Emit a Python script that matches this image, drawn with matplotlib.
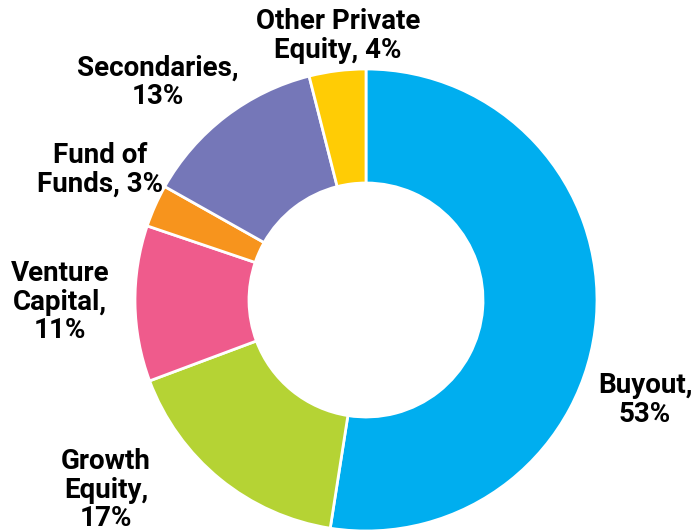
import matplotlib.pyplot as plt

labels = ["Buyout,\n53%", "Growth\nEquity,\n17%", "Venture\nCapital,\n11%",
          "Fund of\nFunds, 3%", "Secondaries,\n13%", "Other Private\nEquity, 4%"]
shares = [53, 17, 11, 3, 13, 4]
colors = ["#00AEEF", "#B5D334", "#EF5B8C", "#F7941D", "#7577B8", "#FFCC05"]
# label anchor points in pixels (x, y from top)
label_pos = [(645, 400), (106, 490), (60, 302), (100, 170), (158, 82), (338, 36)]

W, H = 696, 531
fig = plt.figure(figsize=(W / 100, H / 100), dpi=100)
ax = fig.add_axes([0, 0, 1, 1])

cx, cy, r_out, r_in = 366, H - 300, 231, 117
ax.pie(shares, colors=colors, startangle=90, counterclock=False,
       center=(cx, cy), radius=r_out, frame=True,
       wedgeprops=dict(width=r_out - r_in, edgecolor="white", linewidth=2))
ax.set_xlim(0, W)
ax.set_ylim(0, H)
ax.set_aspect("equal")
ax.axis("off")

for text, (x, y) in zip(labels, label_pos):
    ax.text(x, H - y, text, ha="center", va="center", fontsize=20,
            fontweight="bold", linespacing=1.05,
            family=["Roboto", "DejaVu Sans"])

fig.savefig("out.png", dpi=100)
